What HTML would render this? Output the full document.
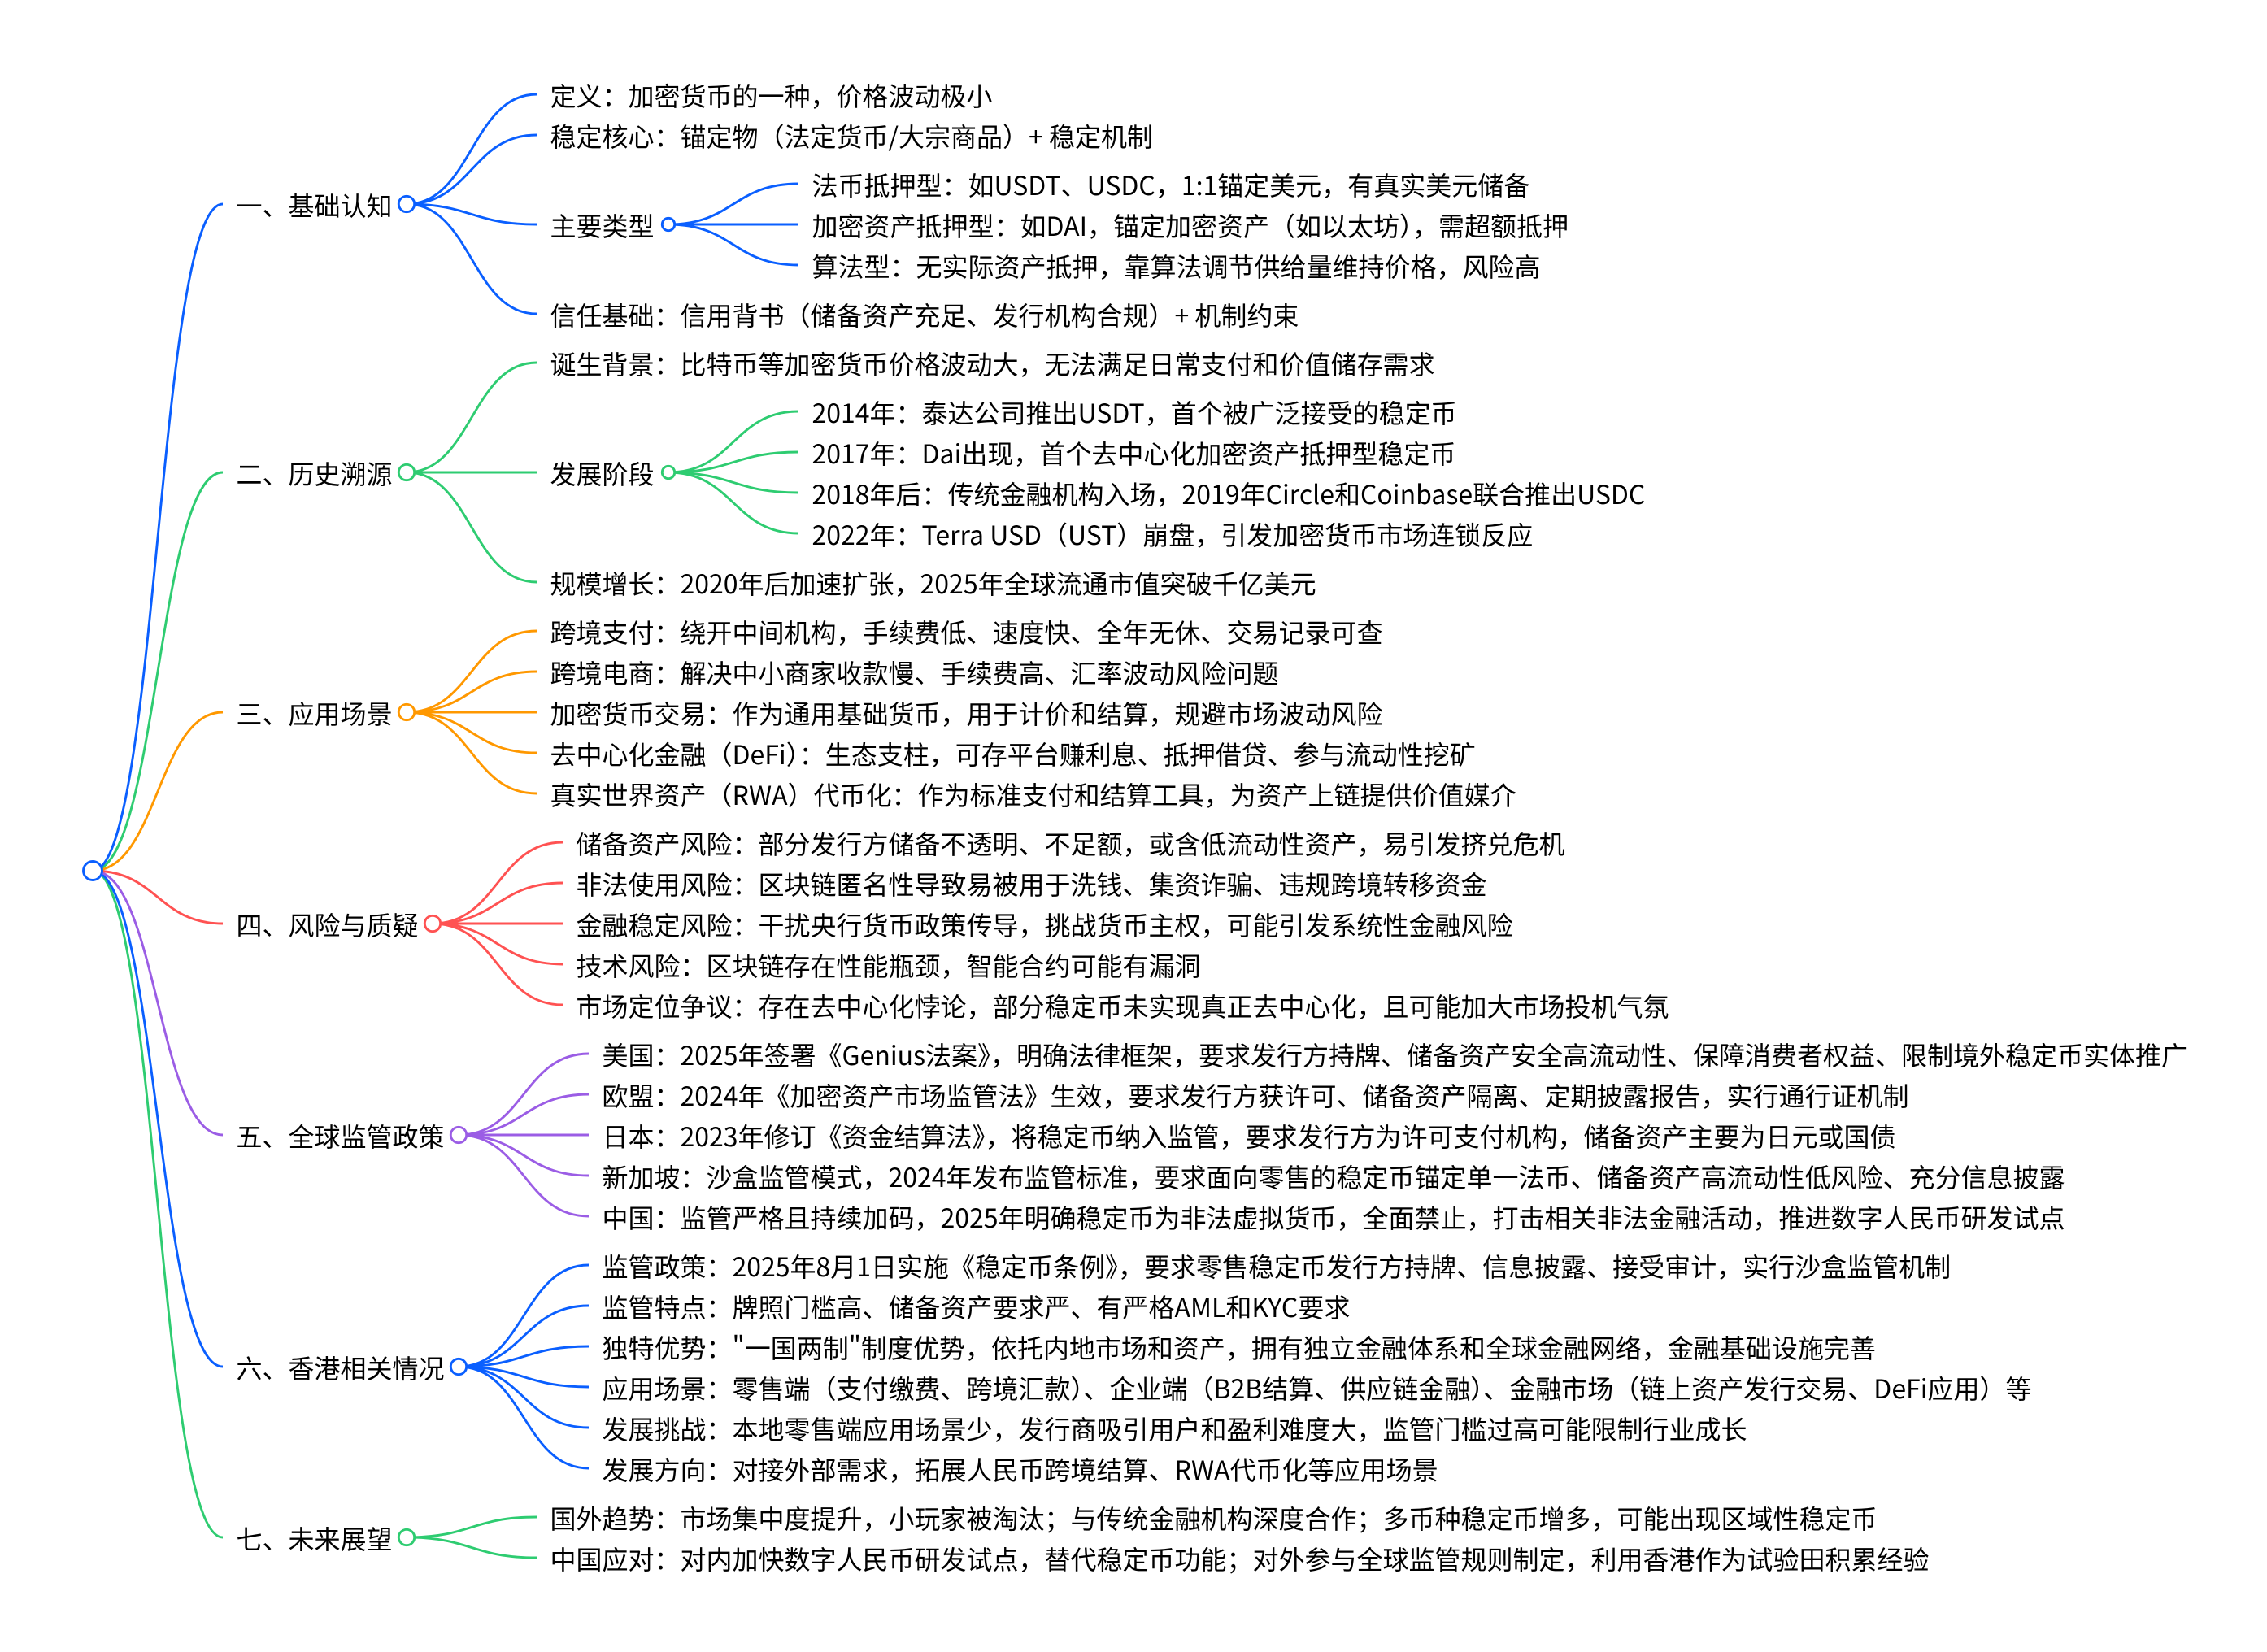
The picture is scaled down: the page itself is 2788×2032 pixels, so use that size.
<!DOCTYPE html>
<html lang="zh-CN"><head><meta charset="utf-8"><title>稳定币思维导图</title>
<style>
html,body{margin:0;padding:0;background:#fff;width:2788px;height:2032px;overflow:hidden}
svg{display:block}
text{font-family:"Noto Sans CJK SC","Liberation Sans",sans-serif;font-size:32px;fill:#000}
path{fill:none;stroke-width:2.9}
circle{fill:#fff;stroke-width:2.9}
.b{stroke:#0a5fff}.g{stroke:#2ecc71}.o{stroke:#ff9800}.r{stroke:#ff5252}.p{stroke:#9b5de5}
</style></head><body>
<svg xmlns="http://www.w3.org/2000/svg" width="2788" height="2032" viewBox="0 0 2788 2032">
<path class="g" d="M114 1071C194 1071 194 1891 274 1891"/>
<path class="b" d="M114 1071C194 1071 194 1681 274 1681"/>
<path class="p" d="M114 1071C194 1071 194 1396 274 1396"/>
<path class="r" d="M114 1071C194 1071 194 1136 274 1136"/>
<path class="o" d="M114 1071C194 1071 194 876 274 876"/>
<path class="g" d="M114 1071C194 1071 194 581 274 581"/>
<path class="b" d="M114 1071C194 1071 194 251 274 251"/>

<path class="b" d="M500 251C580 251 580 116 660 116"/>
<path class="b" d="M500 251C580 251 580 166 660 166"/>
<path class="b" d="M500 251C580 251 580 276 660 276"/>
<path class="b" d="M500 251C580 251 580 386 660 386"/>
<path class="b" d="M822 276C902 276 902 226 982 226"/>
<path class="b" d="M822 276H982"/>
<path class="b" d="M822 276C902 276 902 326 982 326"/>

<path class="g" d="M500 581C580 581 580 446 660 446"/>
<path class="g" d="M500 581H660"/>
<path class="g" d="M500 581C580 581 580 716 660 716"/>
<path class="g" d="M822 581C902 581 902 506 982 506"/>
<path class="g" d="M822 581C902 581 902 556 982 556"/>
<path class="g" d="M822 581C902 581 902 606 982 606"/>
<path class="g" d="M822 581C902 581 902 656 982 656"/>

<path class="o" d="M500 876C580 876 580 776 660 776"/>
<path class="o" d="M500 876C580 876 580 826 660 826"/>
<path class="o" d="M500 876H660"/>
<path class="o" d="M500 876C580 876 580 926 660 926"/>
<path class="o" d="M500 876C580 876 580 976 660 976"/>

<path class="r" d="M532 1136C612 1136 612 1036 692 1036"/>
<path class="r" d="M532 1136C612 1136 612 1086 692 1086"/>
<path class="r" d="M532 1136H692"/>
<path class="r" d="M532 1136C612 1136 612 1186 692 1186"/>
<path class="r" d="M532 1136C612 1136 612 1236 692 1236"/>

<path class="p" d="M564 1396C644 1396 644 1296 724 1296"/>
<path class="p" d="M564 1396C644 1396 644 1346 724 1346"/>
<path class="p" d="M564 1396H724"/>
<path class="p" d="M564 1396C644 1396 644 1446 724 1446"/>
<path class="p" d="M564 1396C644 1396 644 1496 724 1496"/>

<path class="b" d="M564 1681C644 1681 644 1556 724 1556"/>
<path class="b" d="M564 1681C644 1681 644 1606 724 1606"/>
<path class="b" d="M564 1681C644 1681 644 1656 724 1656"/>
<path class="b" d="M564 1681C644 1681 644 1706 724 1706"/>
<path class="b" d="M564 1681C644 1681 644 1756 724 1756"/>
<path class="b" d="M564 1681C644 1681 644 1806 724 1806"/>

<path class="g" d="M500 1891C580 1891 580 1866 660 1866"/>
<path class="g" d="M500 1891C580 1891 580 1916 660 1916"/>

<circle class="b" cx="114" cy="1071" r="11.5"/>
<circle class="b" cx="500" cy="251" r="9.7"/>
<circle class="b" cx="822" cy="276" r="7.7"/>
<circle class="g" cx="500" cy="581" r="9.7"/>
<circle class="g" cx="822" cy="581" r="7.7"/>
<circle class="o" cx="500" cy="876" r="9.7"/>
<circle class="r" cx="532" cy="1136" r="9.7"/>
<circle class="p" cx="564" cy="1396" r="9.7"/>
<circle class="b" cx="564" cy="1681" r="9.7"/>
<circle class="g" cx="500" cy="1891" r="9.7"/>

<g transform="translate(-1.5,1)">
<text x="292" y="264">一、基础认知</text>
<text x="678" y="129">定义：加密货币的一种，价格波动极小</text>
<text x="678" y="179">稳定核心：锚定物（法定货币/大宗商品）+ 稳定机制</text>
<text x="678" y="289">主要类型</text>
<text x="1000" y="239">法币抵押型：如USDT、USDC，1:1锚定美元，有真实美元储备</text>
<text x="1000" y="289">加密资产抵押型：如DAI，锚定加密资产（如以太坊），需超额抵押</text>
<text x="1000" y="339">算法型：无实际资产抵押，靠算法调节供给量维持价格，风险高</text>
<text x="678" y="399">信任基础：信用背书（储备资产充足、发行机构合规）+ 机制约束</text>

<text x="292" y="594">二、历史溯源</text>
<text x="678" y="459">诞生背景：比特币等加密货币价格波动大，无法满足日常支付和价值储存需求</text>
<text x="678" y="594">发展阶段</text>
<text x="1000" y="519">2014年：泰达公司推出USDT，首个被广泛接受的稳定币</text>
<text x="1000" y="569">2017年：Dai出现，首个去中心化加密资产抵押型稳定币</text>
<text x="1000" y="619">2018年后：传统金融机构入场，2019年Circle和Coinbase联合推出USDC</text>
<text x="1000" y="669">2022年：Terra USD（UST）崩盘，引发加密货币市场连锁反应</text>
<text x="678" y="729">规模增长：2020年后加速扩张，2025年全球流通市值突破千亿美元</text>

<text x="292" y="889">三、应用场景</text>
<text x="678" y="789">跨境支付：绕开中间机构，手续费低、速度快、全年无休、交易记录可查</text>
<text x="678" y="839">跨境电商：解决中小商家收款慢、手续费高、汇率波动风险问题</text>
<text x="678" y="889">加密货币交易：作为通用基础货币，用于计价和结算，规避市场波动风险</text>
<text x="678" y="939">去中心化金融（DeFi）：生态支柱，可存平台赚利息、抵押借贷、参与流动性挖矿</text>
<text x="678" y="989">真实世界资产（RWA）代币化：作为标准支付和结算工具，为资产上链提供价值媒介</text>

<text x="292" y="1149">四、风险与质疑</text>
<text x="710" y="1049">储备资产风险：部分发行方储备不透明、不足额，或含低流动性资产，易引发挤兑危机</text>
<text x="710" y="1099">非法使用风险：区块链匿名性导致易被用于洗钱、集资诈骗、违规跨境转移资金</text>
<text x="710" y="1149">金融稳定风险：干扰央行货币政策传导，挑战货币主权，可能引发系统性金融风险</text>
<text x="710" y="1199">技术风险：区块链存在性能瓶颈，智能合约可能有漏洞</text>
<text x="710" y="1249">市场定位争议：存在去中心化悖论，部分稳定币未实现真正去中心化，且可能加大市场投机气氛</text>

<text x="292" y="1409">五、全球监管政策</text>
<text x="742" y="1309">美国：2025年签署《Genius法案》，明确法律框架，要求发行方持牌、储备资产安全高流动性、保障消费者权益、限制境外稳定币实体推广</text>
<text x="742" y="1359">欧盟：2024年《加密资产市场监管法》生效，要求发行方获许可、储备资产隔离、定期披露报告，实行通行证机制</text>
<text x="742" y="1409">日本：2023年修订《资金结算法》，将稳定币纳入监管，要求发行方为许可支付机构，储备资产主要为日元或国债</text>
<text x="742" y="1459">新加坡：沙盒监管模式，2024年发布监管标准，要求面向零售的稳定币锚定单一法币、储备资产高流动性低风险、充分信息披露</text>
<text x="742" y="1509">中国：监管严格且持续加码，2025年明确稳定币为非法虚拟货币，全面禁止，打击相关非法金融活动，推进数字人民币研发试点</text>

<text x="292" y="1694">六、香港相关情况</text>
<text x="742" y="1569">监管政策：2025年8月1日实施《稳定币条例》，要求零售稳定币发行方持牌、信息披露、接受审计，实行沙盒监管机制</text>
<text x="742" y="1619">监管特点：牌照门槛高、储备资产要求严、有严格AML和KYC要求</text>
<text x="742" y="1669">独特优势："一国两制"制度优势，依托内地市场和资产，拥有独立金融体系和全球金融网络，金融基础设施完善</text>
<text x="742" y="1719">应用场景：零售端（支付缴费、跨境汇款）、企业端（B2B结算、供应链金融）、金融市场（链上资产发行交易、DeFi应用）等</text>
<text x="742" y="1769">发展挑战：本地零售端应用场景少，发行商吸引用户和盈利难度大，监管门槛过高可能限制行业成长</text>
<text x="742" y="1819">发展方向：对接外部需求，拓展人民币跨境结算、RWA代币化等应用场景</text>

<text x="292" y="1904">七、未来展望</text>
<text x="678" y="1879">国外趋势：市场集中度提升，小玩家被淘汰；与传统金融机构深度合作；多币种稳定币增多，可能出现区域性稳定币</text>
<text x="678" y="1929">中国应对：对内加快数字人民币研发试点，替代稳定币功能；对外参与全球监管规则制定，利用香港作为试验田积累经验</text>
</g>
</svg>
</body></html>
